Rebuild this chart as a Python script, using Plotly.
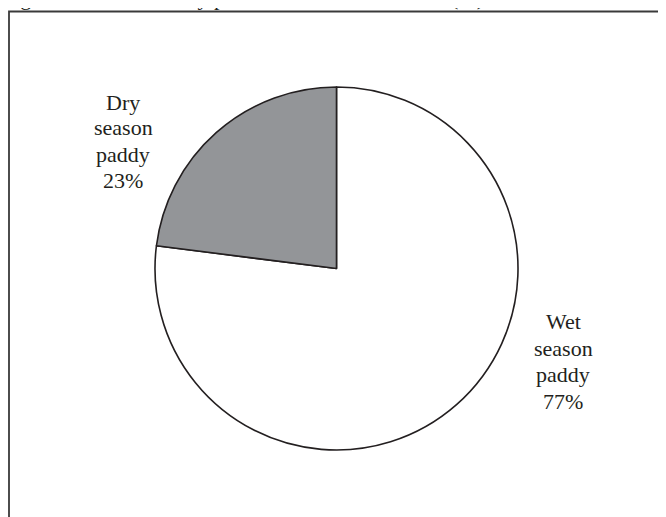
import plotly.graph_objects as go

categories = ["Wet season paddy", "Dry season paddy"]
shares = [77, 23]
label_lines = [["Wet", "season", "paddy"], ["Dry", "season", "paddy"]]
slice_colors = ["#ffffff", "#939598"]
title_text = "Figure 3: Area share by production season in 2010 (%)"

W, H = 666, 517
OFF = 8  # browser body margin: figure origin sits 8px right/down of the page origin
FONT = "Liberation Serif, Times New Roman, serif"


def px(x):
    return (x - OFF) / W


def py(y):
    return 1 - (y - OFF) / H


cx, cy, r = 336.5, 268.5, 181.5

fig = go.Figure()
fig.add_trace(go.Pie(
    labels=categories,
    values=shares,
    sort=False,
    direction="clockwise",
    rotation=0,
    textinfo="none",
    hoverinfo="label+percent",
    marker=dict(colors=slice_colors, line=dict(color="#231f20", width=1.6)),
    domain=dict(x=[px(cx - r), px(cx + r)], y=[py(cy + r), py(cy - r)]),
    showlegend=False,
))

# baselines of the label lines (page px)
label_centers = [(563, [328, 355, 381, 408]), (123, [109, 135, 161, 187])]
anns = []
for lines, v, (lx, bases) in zip(label_lines, shares, label_centers):
    for txt, b in zip(lines + [f"{v}%"], bases):
        anns.append(dict(
            text=txt, x=px(lx), y=py(b - 7), xref="paper", yref="paper",
            xanchor="center", yanchor="middle", showarrow=False,
            font=dict(family=FONT, size=22, color="#231f20"),
        ))
anns.append(dict(
    text=title_text, x=px(0), y=py(12), xref="paper", yref="paper",
    xanchor="left", yanchor="bottom", showarrow=False,
    font=dict(family=FONT, size=22, color="#231f20"),
))

fig.update_layout(
    width=W, height=H,
    margin=dict(l=0, r=0, t=0, b=0),
    paper_bgcolor="white", plot_bgcolor="white",
    annotations=anns,
    shapes=[dict(type="rect", xref="paper", yref="paper",
                 x0=px(9), x1=1.05, y0=-0.05, y1=py(11.5),
                 line=dict(color="#3a3a3a", width=1.8))],
)
fig.write_html("out.html")
